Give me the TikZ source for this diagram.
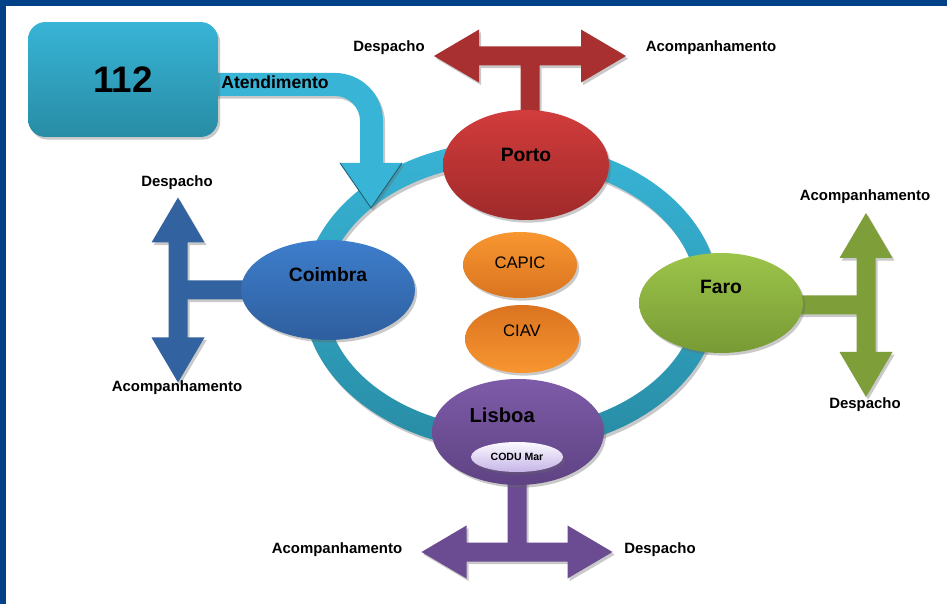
\documentclass[tikz,border=0pt]{standalone}
\usepackage{fontspec}
\setmainfont{Liberation Sans}
\usetikzlibrary{positioning, shapes.geometric, shadows}

\definecolor{frameblue}{RGB}{0,65,135}
\definecolor{ringtop}{RGB}{56,180,214}
\definecolor{ringbot}{RGB}{40,140,165}
\definecolor{ringdark}{RGB}{30,96,116}
\definecolor{portotop}{RGB}{210,60,60}
\definecolor{portobot}{RGB}{160,42,42}
\definecolor{portoarr}{RGB}{168,48,48}
\definecolor{coimbratop}{RGB}{62,126,204}
\definecolor{coimbrabot}{RGB}{46,94,158}
\definecolor{coimbraarr}{RGB}{50,99,160}
\definecolor{farotop}{RGB}{156,196,74}
\definecolor{farobot}{RGB}{120,154,53}
\definecolor{faroarr}{RGB}{126,158,58}
\definecolor{lisboatop}{RGB}{126,91,168}
\definecolor{lisboabot}{RGB}{94,67,131}
\definecolor{lisboaarr}{RGB}{107,76,146}
\definecolor{orangelt}{RGB}{248,150,48}
\definecolor{orangedk}{RGB}{218,116,32}
\definecolor{codutop}{RGB}{252,250,255}
\definecolor{codubot}{RGB}{198,180,232}

% block T-arrow: #1 half length, #2 stem length, #3 colour
\newcommand{\tarrow}[3]{%
  \fill[#3, softshadow] (-#1,0) -- (-#1+45,-26.5) -- (-#1+45,-9.5) -- (#1-45,-9.5)
    -- (#1-45,-26.5) -- (#1,0) -- (#1-45,26.5) -- (#1-45,9.5) -- (9.5,9.5)
    -- (9.5,#2) -- (-9.5,#2) -- (-9.5,9.5) -- (-#1+45,9.5) -- (-#1+45,26.5) -- cycle;}

\begin{document}
\begin{tikzpicture}[
    x=0.02cm, y=-0.02cm,
    softshadow/.style={drop shadow={shadow xshift=1.2pt, shadow yshift=-1.5pt, opacity=0.35, fill=black!60}},
    city/.style={ellipse, inner sep=0pt, softshadow},
    citytext/.style={font=\fontsize{11}{13}\selectfont\bfseries},
    lbl/.style={font=\fontsize{8.5}{10}\selectfont\bfseries},
    centre/.style={ellipse, inner sep=0pt, minimum width=2.28cm, softshadow},
    centretext/.style={font=\fontsize{9.5}{11}\selectfont},
]
\useasboundingbox (0,0) rectangle (947,604);
\fill[white] (0,0) rectangle (947,604);
\fill[frameblue] (0,0) rectangle (947,6);
\fill[frameblue] (0,0) rectangle (6,604);

% ring
\fill[even odd rule, black!60, opacity=0.35]
    (513,299) ellipse [x radius=208, y radius=155]
    (513,299) ellipse [x radius=186, y radius=133];
\path[even odd rule, top color=ringtop, bottom color=ringbot]
    (511,296) ellipse [x radius=208, y radius=155]
    (511,296) ellipse [x radius=186, y radius=133];

% atendimento arrow
\fill[ringtop, softshadow] (200,73) -- (335,73) arc[start angle=-90, end angle=0, radius=48]
    -- (383,163) -- (402,163) -- (371,208) -- (340,163) -- (360,163) -- (360,121)
    arc[start angle=0, end angle=-90, radius=25] -- (200,96) -- cycle;
\draw[ringdark, line width=0.5pt] (340,163) -- (371,208) -- (402,163);

% T-arrows
\begin{scope}[shift={(530,56)}]
\tarrow{96}{65}{portoarr}
\end{scope}
\begin{scope}[shift={(517,552)}, rotate=180]
\tarrow{95.5}{75}{lisboaarr}
\end{scope}
\begin{scope}[shift={(178,290)}, rotate=90]
\tarrow{92.5}{73}{coimbraarr}
\end{scope}
\begin{scope}[shift={(866,305)}, rotate=-90]
\tarrow{92}{73}{faroarr}
\end{scope}

% 112
\node[rectangle, rounded corners=0.35cm, minimum width=3.8cm, minimum height=2.3cm,
    top color=ringtop, bottom color=ringbot, softshadow,
    font=\fontsize{21}{25}\selectfont\bfseries] (box112) at (123,79.5) {112};
\node[font=\fontsize{10}{12}\selectfont\bfseries] (atend) at (275,82) {Atendimento};

% cities
\node[city, top color=portotop, bottom color=portobot, minimum width=3.32cm, minimum height=2.2cm,
    label={[citytext, yshift=5.7pt]center:Porto}] (porto) at (526,165) {};
\node[city, top color=coimbratop, bottom color=coimbrabot, minimum width=3.48cm, minimum height=2cm,
    label={[citytext, yshift=9pt]center:Coimbra}] (coimbra) at (328,290) {};
\node[city, top color=farotop, bottom color=farobot, minimum width=3.28cm, minimum height=2cm,
    label={[citytext, yshift=9pt]center:Faro}] (faro) at (721,303) {};
\node[city, top color=lisboatop, bottom color=lisboabot, minimum width=3.44cm, minimum height=2.12cm,
    label={[citytext, font=\fontsize{11.5}{13}\selectfont\bfseries, xshift=-9pt, yshift=9.6pt]center:Lisboa}] (lisboa) at (518,432) {};
\node[city, top color=codutop, bottom color=codubot, minimum width=1.84cm, minimum height=0.6cm,
    font=\fontsize{6}{7}\selectfont\bfseries] (codu) at (517,457) {CODU Mar};

\node[centre, top color=orangelt, bottom color=orangedk, minimum height=1.32cm,
    label={[centretext, yshift=1pt]center:CAPIC}] (capic) at (520,265) {};
\node[centre, top color=orangedk, bottom color=orangelt, minimum height=1.36cm,
    label={[centretext, yshift=4.5pt]center:CIAV}] (ciav) at (522,339) {};

% labels
\node[lbl] (pdesp) at (389,48) {Despacho};
\node[lbl] (pacomp) at (711,48) {Acompanhamento};
\node[lbl] (cdesp) at (177,183) {Despacho};
\node[lbl] (cacomp) at (177,388) {Acompanhamento};
\node[lbl] (facomp) at (865,197) {Acompanhamento};
\node[lbl] (fdesp) at (865,405) {Despacho};
\node[lbl] (lacomp) at (337,550) {Acompanhamento};
\node[lbl] (ldesp) at (660,550) {Despacho};
\end{tikzpicture}
\end{document}
